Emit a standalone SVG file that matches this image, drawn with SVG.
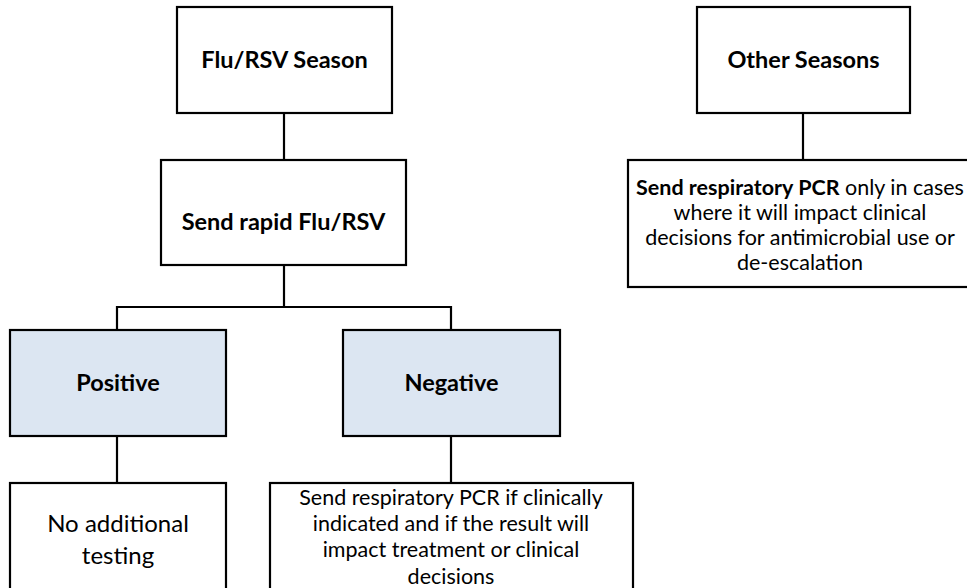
<svg xmlns="http://www.w3.org/2000/svg" width="967" height="588" viewBox="0 0 967 588">
  <style>
    .box { fill: #ffffff; stroke: #000000; stroke-width: 2.2; }
    .blue { fill: #dce6f2; stroke: #000000; stroke-width: 2.2; }
    .wire { fill: none; stroke: #000000; stroke-width: 2.2; }
    text { font-family: Lato, "Liberation Sans", sans-serif; fill: #000000; text-anchor: middle; }
    .hd { font-size: 23.5px; font-weight: bold; }
    .body { font-size: 21.5px; }
    .big { font-size: 24px; }
    .b { font-weight: bold; }
  </style>
  <rect width="967" height="588" fill="#ffffff"/>

  <g id="connectors">
    <line class="wire" x1="284" y1="113" x2="284" y2="160"/>
    <polyline class="wire" points="117,330 117,307 451,307 451,330"/>
    <line class="wire" x1="284" y1="265" x2="284" y2="307"/>
    <line class="wire" x1="117" y1="436" x2="117" y2="483"/>
    <line class="wire" x1="451" y1="436" x2="451" y2="483"/>
    <line class="wire" x1="803" y1="113" x2="803" y2="160"/>
  </g>

  <g id="flu-season">
    <rect class="box" x="177" y="7" width="215" height="106"/>
    <text class="hd" x="284.5" y="68">Flu/RSV Season</text>
  </g>

  <g id="rapid-test">
    <rect class="box" x="161" y="160" width="245" height="105"/>
    <text class="hd" x="283.5" y="230">Send rapid Flu/RSV</text>
  </g>

  <g id="positive">
    <rect class="blue" x="10" y="330" width="216" height="106"/>
    <text class="hd" x="118" y="391">Positive</text>
  </g>

  <g id="negative">
    <rect class="blue" x="343" y="330" width="217" height="106"/>
    <text class="hd" x="451.5" y="391">Negative</text>
  </g>

  <g id="no-testing">
    <rect class="box" x="10" y="483" width="216" height="110"/>
    <text class="big" x="118" y="532">No additional</text>
    <text class="big" x="118" y="564">testing</text>
  </g>

  <g id="pcr-if-indicated">
    <rect class="box" x="270" y="483" width="363" height="110"/>
    <text class="body" x="451" y="505">Send respiratory PCR if clinically</text>
    <text class="body" x="451" y="531">indicated and if the result will</text>
    <text class="body" x="451" y="557">impact treatment or clinical</text>
    <text class="body" x="451" y="584">decisions</text>
  </g>

  <g id="other-seasons">
    <rect class="box" x="697" y="7" width="213" height="106"/>
    <text class="hd" x="803.5" y="68">Other Seasons</text>
  </g>

  <g id="pcr-other">
    <rect class="box" x="628" y="160" width="352" height="127"/>
    <text class="body" x="800" y="195"><tspan class="b">Send respiratory PCR</tspan> only in cases</text>
    <text class="body" x="800" y="220">where it will impact clinical</text>
    <text class="body" x="800" y="245">decisions for antimicrobial use or</text>
    <text class="body" x="800" y="270">de-escalation</text>
  </g>
</svg>
